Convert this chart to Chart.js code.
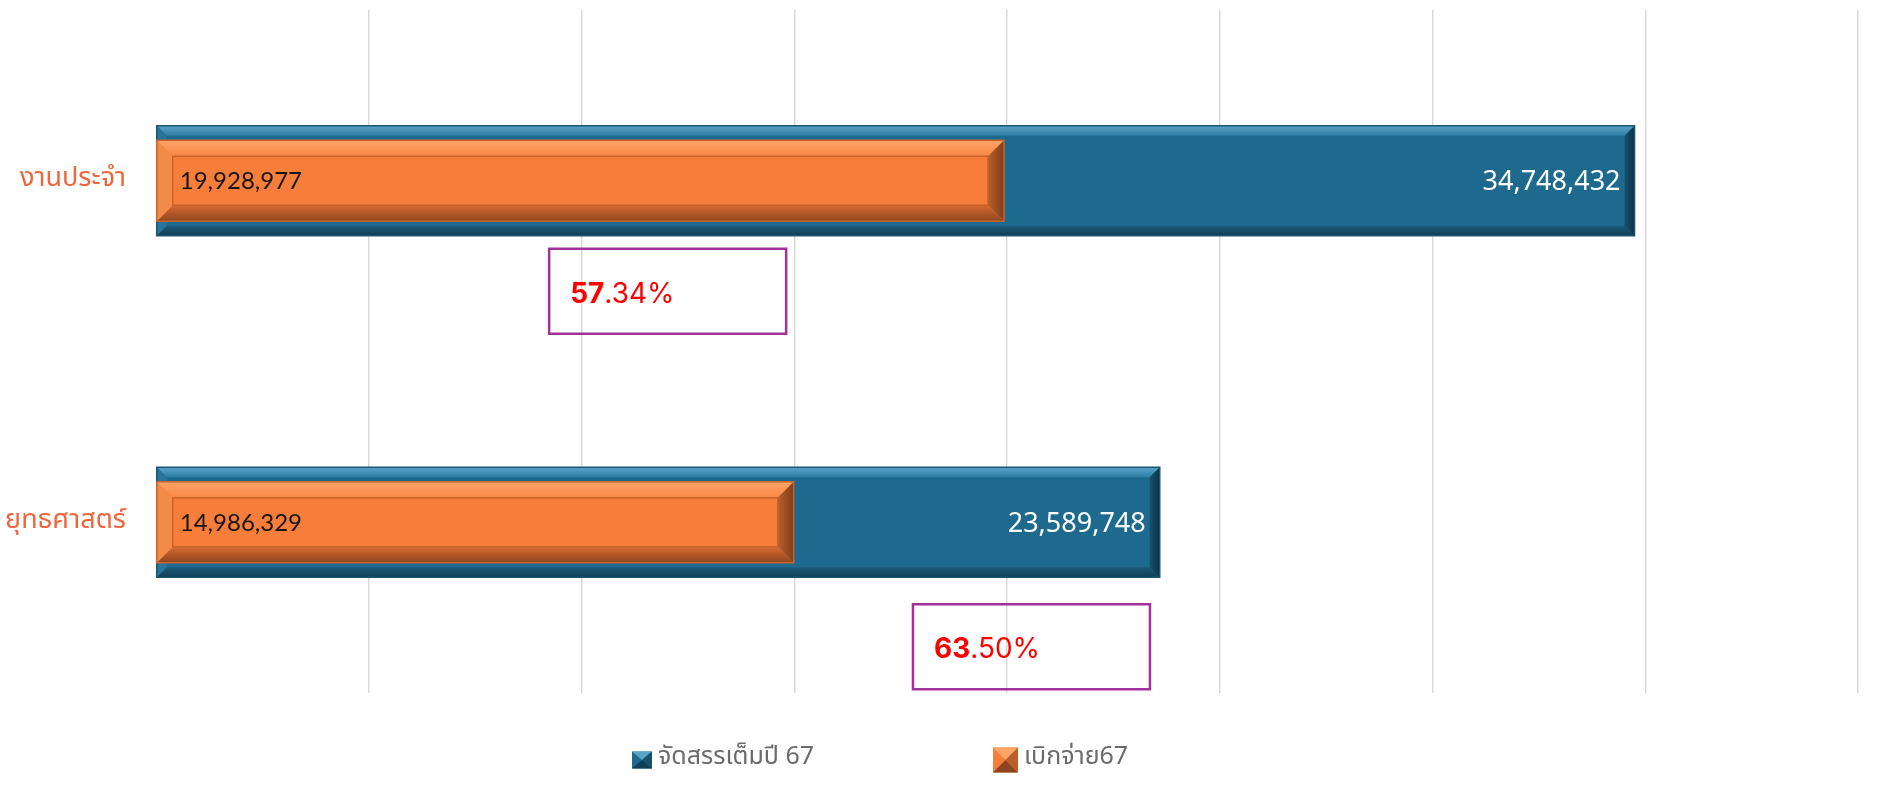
<!DOCTYPE html>
<html>
<head>
<meta charset="utf-8">
<script src="https://cdn.jsdelivr.net/npm/chart.js@4.4.1/dist/chart.umd.min.js"></script>
<style>
  html, body { margin: 0; padding: 0; background: #fff; }
  #wrap { width: 1887px; height: 791px; }
</style>
</head>
<body>
<div id="wrap"><canvas id="budgetChart"></canvas></div>
<script>
const categories = ["งานประจำ", "ยุทธศาสตร์"];
const allocated = [34748432, 23589748];
const disbursed = [19928977, 14986329];
const percentLabels = ["57.34%", "63.50%"];
const seriesNames = ["จัดสรรเต็มปี 67", "เบิกจ่าย67"];

const thaiFont = "'Noto Sans Thai', 'Noto Sans', 'DejaVu Sans', sans-serif";

// bevel look for the bars, drawn right after each dataset
const bevelPlugin = {
  id: 'bevel',
  afterDatasetDraw(chart, args) {
    const ctx = chart.ctx;
    const style = args.index === 0 ? bevelBlue : bevelOrange;
    args.meta.data.forEach(bar => {
      const p = bar.getProps(['x', 'y', 'base', 'height'], true);
      const L = p.base, R = p.x, T = p.y - p.height / 2, B = p.y + p.height / 2;
      const bx = style.b, by = style.b;
      ctx.save();
      const quad = (pts, fill) => {
        ctx.beginPath();
        ctx.moveTo(pts[0][0], pts[0][1]);
        for (let i = 1; i < pts.length; i++) ctx.lineTo(pts[i][0], pts[i][1]);
        ctx.closePath();
        ctx.fillStyle = fill;
        ctx.fill();
      };
      let g = ctx.createLinearGradient(0, T, 0, T + by);
      g.addColorStop(0, style.top[0]); g.addColorStop(1, style.top[1]);
      quad([[L, T], [R, T], [R - bx, T + by], [L + bx, T + by]], g);
      g = ctx.createLinearGradient(0, B - by, 0, B);
      g.addColorStop(0, style.bottom[0]); g.addColorStop(1, style.bottom[1]);
      quad([[L, B], [R, B], [R - bx, B - by], [L + bx, B - by]], g);
      quad([[L, T], [L + bx, T + by], [L + bx, B - by], [L, B]], style.left);
      g = ctx.createLinearGradient(R - bx, 0, R, 0);
      g.addColorStop(0, style.right[0]); g.addColorStop(1, style.right[1]);
      quad([[R, T], [R - bx, T + by], [R - bx, B - by], [R, B]], g);
      if (style.inner) {
        ctx.strokeStyle = style.inner;
        ctx.lineWidth = 1.5;
        ctx.strokeRect(L + bx, T + by, R - L - 2 * bx, B - T - 2 * by);
      }
      ctx.strokeStyle = style.edge;
      ctx.lineWidth = 1.5;
      ctx.strokeRect(L, T, R - L, B - T);
      ctx.restore();
    });
  }
};

const bevelBlue = {
  b: 10,
  top: ['#5AA2C6', '#2F7EA5'],
  bottom: ['#1A5A79', '#123F56'],
  left: '#2A7399',
  right: ['#16506C', '#0E3347'],
  edge: '#1B5574',
  inner: null
};
const bevelOrange = {
  b: 16,
  top: ['#FFA468', '#F98743'],
  bottom: ['#D96A2F', '#8C4520'],
  left: '#F48A48',
  right: ['#B85F2C', '#7E3E1A'],
  edge: '#C9642C',
  inner: '#C8632B'
};

// value labels inside the bars
const valueLabels = {
  id: 'valueLabels',
  afterDatasetsDraw(chart) {
    const ctx = chart.ctx;
    ctx.save();
    ctx.textBaseline = 'middle';
    chart.getDatasetMeta(0).data.forEach((bar, i) => {
      ctx.font = "27px 'Noto Sans', sans-serif";
      ctx.fillStyle = '#ffffff';
      ctx.textAlign = 'right';
      ctx.fillText(allocated[i].toLocaleString('en-US'), bar.x - 14, bar.y + 2);
    });
    chart.getDatasetMeta(1).data.forEach((bar, i) => {
      ctx.font = "24px Lato, sans-serif";
      ctx.fillStyle = '#141414';
      ctx.textAlign = 'left';
      ctx.fillText(disbursed[i].toLocaleString('en-US'), bar.base + 23, bar.y + 1);
    });
    ctx.restore();
  }
};

// boxed percentage notes under each category
const percentNotes = {
  id: 'percentNotes',
  afterDraw(chart, args, opts) {
    const ctx = chart.ctx;
    const xs = chart.scales.x, ys = chart.scales.y;
    ctx.save();
    percentLabels.forEach((txt, i) => {
      const left = xs.getPixelForValue(opts.left[i]);
      const right = xs.getPixelForValue(opts.left[i] + opts.width);
      const top = ys.getPixelForValue(i) + opts.dy[i];
      ctx.strokeStyle = '#A2319C';
      ctx.lineWidth = 2.5;
      ctx.strokeRect(left, top, right - left, opts.height);
      const dot = txt.indexOf('.');
      const whole = txt.slice(0, dot), rest = txt.slice(dot);
      ctx.fillStyle = '#FF0000';
      ctx.textBaseline = 'alphabetic';
      ctx.textAlign = 'left';
      ctx.font = "bold 28px Inter, sans-serif";
      ctx.fillText(whole, left + 21, top + 54);
      const w = ctx.measureText(whole).width;
      ctx.font = "28px Inter, sans-serif";
      ctx.fillText(rest, left + 21 + w, top + 54);
    });
    ctx.restore();
  }
};

// legend placed under the plot like the original
const sideLegend = {
  id: 'sideLegend',
  afterDraw(chart, args, opts) {
    const ctx = chart.ctx;
    ctx.save();
    chart.data.datasets.forEach((ds, i) => {
      const x = opts.x[i], y = opts.y, w = opts.box[i][0], h = opts.box[i][1];
      const t = y - h / 2, b = y + h / 2, cx = x + w / 2;
      const st = i === 0 ? bevelBlue : bevelOrange;
      ctx.fillStyle = ds.backgroundColor;
      ctx.fillRect(x, t, w, h);
      // little pyramid shading
      ctx.beginPath();
      ctx.moveTo(x, t); ctx.lineTo(x + w, t); ctx.lineTo(cx, y); ctx.closePath();
      ctx.fillStyle = st.top[0]; ctx.fill();
      ctx.beginPath();
      ctx.moveTo(x, b); ctx.lineTo(x + w, b); ctx.lineTo(cx, y); ctx.closePath();
      ctx.fillStyle = st.bottom[1]; ctx.fill();
      ctx.beginPath();
      ctx.moveTo(x + w, t); ctx.lineTo(x + w, b); ctx.lineTo(cx, y); ctx.closePath();
      ctx.fillStyle = st.right[0]; ctx.fill();
      ctx.font = "25px " + thaiFont;
      ctx.fillStyle = '#6B6B6B';
      ctx.textBaseline = 'middle';
      ctx.textAlign = 'left';
      ctx.fillText(ds.label, x + w + 6, y - 1);
    });
    ctx.restore();
  }
};

const data = {
  labels: categories,
  datasets: [
    {
      label: seriesNames[0],
      data: allocated,
      backgroundColor: '#1D6A8E',
      borderWidth: 0,
      barPercentage: 0.322,
      categoryPercentage: 1,
      grouped: false,
      order: 1
    },
    {
      label: seriesNames[1],
      data: disbursed,
      backgroundColor: '#F77E3A',
      borderWidth: 0,
      barPercentage: 0.237,
      categoryPercentage: 1,
      grouped: false,
      order: 0
    }
  ]
};

const config = {
  type: 'bar',
  data: data,
  options: {
    indexAxis: 'y',
    responsive: true,
    maintainAspectRatio: false,
    animation: false,
    layout: { padding: { top: 10, right: 29, bottom: 98, left: 0 } },
    scales: {
      x: {
        min: 0,
        max: 40000000,
        ticks: { display: false, stepSize: 5000000 },
        grid: {
          drawTicks: false,
          lineWidth: 1.5,
          color: c => c.index === 0 ? 'rgba(0,0,0,0)' : '#D9D9D9'
        },
        border: { display: false },
        afterFit: s => { s.height = 0; s.paddingLeft = 0; s.paddingRight = 0; }
      },
      y: {
        ticks: {
          color: '#F0653A',
          padding: 30,
          font: { size: 27, family: thaiFont }
        },
        grid: { display: false, drawTicks: false },
        border: { display: false },
        afterFit: s => { s.width = 156; s.paddingTop = 0; s.paddingBottom = 0; }
      }
    },
    plugins: {
      legend: { display: false },
      tooltip: { enabled: false },
      percentNotes: {
        left: [9240000, 17790000],
        width: 5570000,
        dy: [68, 82],
        height: 85
      },
      sideLegend: { x: [632, 993], y: 760, box: [[20, 17], [25, 25]] }
    }
  },
  plugins: [bevelPlugin, valueLabels, percentNotes, sideLegend]
};

const budgetChart = new Chart(document.getElementById('budgetChart'), config);
</script>
</body>
</html>
